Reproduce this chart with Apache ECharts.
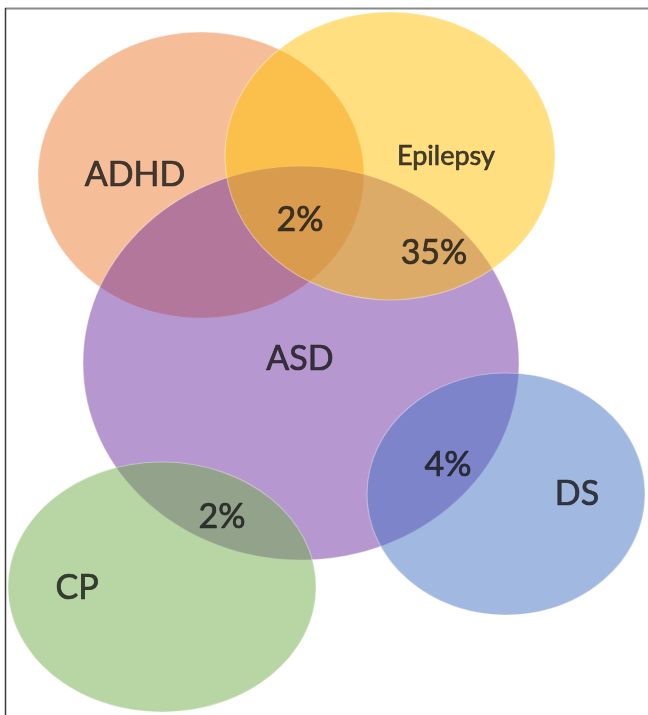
<!DOCTYPE html>
<html>
<head>
<meta charset="utf-8">
<script src="https://cdn.jsdelivr.net/npm/echarts@6/dist/echarts.min.js"></script>
<style>
html,body{margin:0;padding:0;background:#fff;}
#chart{width:648px;height:715px;}
</style>
</head>
<body>
<div id="chart"></div>
<script>
// Sets, drawn in this order (later ones lie on top)
const setNames = ['ADHD', 'ASD', 'Epilepsy', 'DS', 'CP'];
const centerX  = [201, 301, 390, 506, 162];
const centerY  = [175, 363, 156, 494, 587];
const radiusX  = [163, 218, 165, 139, 154];
const radiusY  = [143, 197, 144, 121, 125];

// Text labels (names and overlap percentages)
const labelTexts = ['ADHD', 'Epilepsy', '2%', '35%', 'ASD', '4%', 'DS', '2%', 'CP'];
const labelX     = [135, 446, 300, 434, 300, 448, 577, 222, 77];
const labelY     = [175, 156, 220, 253, 359, 465, 494, 517, 588];

// Styles
const fillColors = {ADHD: '#ED7D31', ASD: '#7030A0', Epilepsy: '#FFC000', DS: '#4472C4', CP: '#70AD47'};
const fillOpacity = 0.5;
const labelSizes = {Epilepsy: 27};

const chart = echarts.init(document.getElementById('chart'), null, {renderer: 'canvas'});

const ellipseData = setNames.map((n, i) => ({name: n, value: [i, centerX[i], centerY[i], radiusX[i], radiusY[i]]}));
const labelData = labelTexts.map((t, i) => {
  const d = {name: t, value: [labelX[i], labelY[i]]};
  if (labelSizes[t]) d.label = {fontSize: labelSizes[t]};
  return d;
});

chart.setOption({
  animation: false,
  backgroundColor: '#ffffff',
  grid: {left: 0, top: 0, right: 0, bottom: 0},
  xAxis: {type: 'value', min: 0, max: 648, show: false},
  yAxis: {type: 'value', min: 0, max: 715, inverse: true, show: false},
  graphic: [
    {type: 'line', shape: {x1: 5, y1: 8.5, x2: 648, y2: 8.5}, style: {stroke: '#8a8a8a', lineWidth: 2}, z: 100},
    {type: 'line', shape: {x1: 5.5, y1: 8, x2: 5.5, y2: 715}, style: {stroke: '#3a3a3a', lineWidth: 1.5}, z: 100}
  ],
  series: [
    {
      type: 'custom',
      coordinateSystem: 'cartesian2d',
      data: ellipseData,
      encode: {x: 1, y: 2},
      renderItem: function (params, api) {
        const i = api.value(0);
        const c = api.coord([api.value(1), api.value(2)]);
        const s = api.size([api.value(3), api.value(4)]);
        const color = fillColors[setNames[i]];
        return {
          type: 'ellipse',
          shape: {cx: c[0], cy: c[1], rx: s[0], ry: s[1]},
          style: {fill: color, opacity: fillOpacity, stroke: 'rgba(255,255,255,0.7)', lineWidth: 1.2}
        };
      },
      z: 1
    },
    {
      type: 'scatter',
      data: labelData,
      symbolSize: 0,
      z: 5,
      label: {
        show: true,
        position: 'inside',
        formatter: function (p) { return p.name; },
        color: '#161616',
        fontFamily: 'Lato, "Open Sans", sans-serif',
        fontSize: 34,
        textBorderColor: '#161616',
        textBorderWidth: 0.7
      }
    }
  ]
});
</script>
</body>
</html>
